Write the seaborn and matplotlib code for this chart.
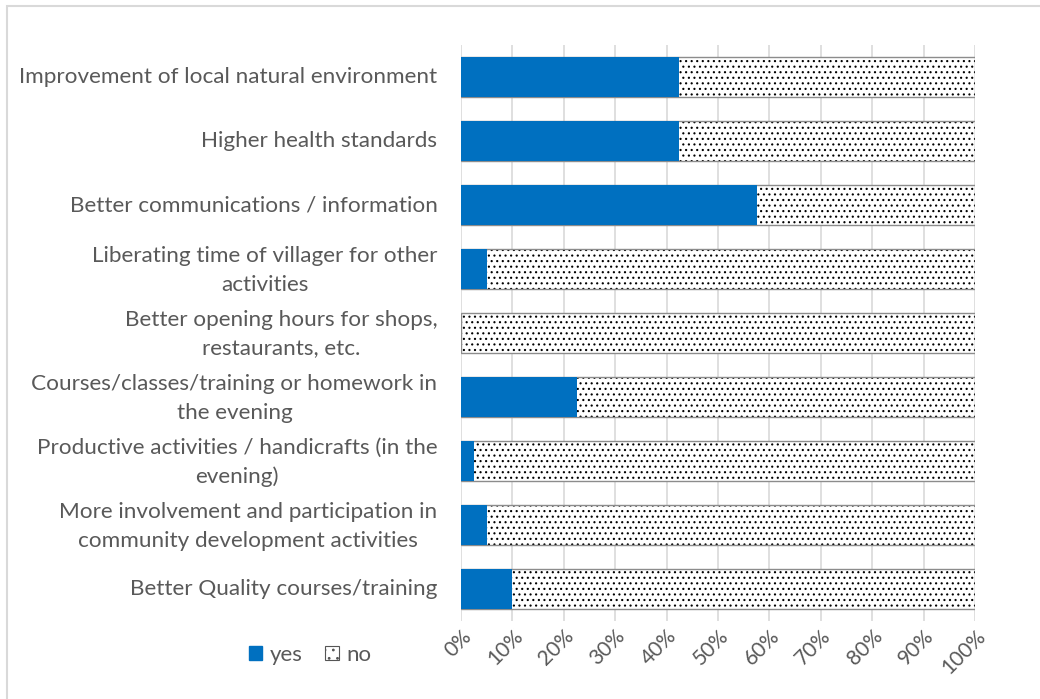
import matplotlib
matplotlib.use("Agg")
import matplotlib.pyplot as plt
import matplotlib.patches as mpatches
import matplotlib.transforms as mtransforms
import seaborn as sns
import pandas as pd

categories = [
    "Improvement of local natural environment",
    "Higher health standards",
    "Better communications / information",
    "Liberating time of villager for other\nactivities",
    "Better opening hours for shops,\nrestaurants, etc.",
    "Courses/classes/training or homework in\nthe evening",
    "Productive activities / handicrafts (in the\nevening)",
    "More involvement and participation in\ncommunity development activities",
    "Better Quality courses/training",
]
yes_pct = [42.5, 42.5, 57.5, 5.0, 0.0, 22.5, 2.5, 5.0, 10.0]
no_pct = [100 - v for v in yes_pct]
x_ticks = list(range(0, 101, 10))
x_tick_labels = [f"{t}%" for t in x_ticks]

BLUE = "#0070C0"
TEXT = "#595959"
GRID = "#D9D9D9"
EDGE = "#8C8C8C"

sns.set_theme(style="white")
plt.rcParams["font.family"] = ["Lato", "DejaVu Sans"]
plt.rcParams["hatch.linewidth"] = 0.8

df = pd.DataFrame({
    "category": categories,
    "yes": yes_pct,
    "no": no_pct,
})
df["total"] = df["yes"] + df["no"]

fig = plt.figure(figsize=(10.4, 6.99), dpi=100)
ax = fig.add_axes([461 / 1040, 1 - 621 / 699, 514 / 1040, 576 / 699])

# stacked "no" layer: dotted fill spanning the full 100%
sns.barplot(data=df, y="category", x="total", orient="h", ax=ax,
            color="white", edgecolor="black", linewidth=0, width=0.64,
            hatch="...", zorder=2)
# thin grey outline around the "no" layer
sns.barplot(data=df, y="category", x="total", orient="h", ax=ax,
            fill=False, edgecolor=EDGE, linewidth=1.0, width=0.64, zorder=3)
# solid "yes" layer on top
sns.barplot(data=df, y="category", x="yes", orient="h", ax=ax,
            color=BLUE, saturation=1, linewidth=0, width=0.64, zorder=4)

ax.set_xlim(0, 100)
ax.set_ylim(8.5, -0.5)
ax.set_xticks(x_ticks)
ax.set_xticklabels(x_tick_labels, rotation=45, ha="right", va="top",
                   rotation_mode="anchor", fontsize=15, color=TEXT)
offset = mtransforms.ScaledTranslation(0.09, -0.13, fig.dpi_scale_trans)
for lbl in ax.get_xticklabels():
    lbl.set_transform(lbl.get_transform() + offset)
ax.set_xlabel("")
ax.set_ylabel("")
ax.grid(axis="x", color=GRID, linewidth=1.2, zorder=0)
ax.set_axisbelow(True)
for s in ax.spines.values():
    s.set_visible(False)
ax.tick_params(axis="both", length=0)
ax.tick_params(axis="y", pad=17)
for lbl in ax.get_yticklabels():
    lbl.set_fontsize(16.2)
    lbl.set_color(TEXT)
    lbl.set_multialignment("center")
    lbl.set_linespacing(1.55)
    lift = 0.05 if "\n" in lbl.get_text() else 0.02
    lbl.set_transform(lbl.get_transform()
                      + mtransforms.ScaledTranslation(0, lift, fig.dpi_scale_trans))

handles = [
    mpatches.Patch(facecolor=BLUE, edgecolor=BLUE, label="yes"),
    mpatches.Patch(facecolor="white", edgecolor="#555555", hatch="..",
                   linewidth=0.8, label="no"),
]
leg = fig.legend(handles=handles, loc="center left",
                 bbox_to_anchor=(229 / 1040, 1 - 655 / 699), ncol=2,
                 frameon=False, fontsize=16, handlelength=0.6,
                 handleheight=0.6, handletextpad=0.35, columnspacing=1.0)
for t in leg.get_texts():
    t.set_color(TEXT)

# chart-area border
fig.add_artist(mpatches.Rectangle((7 / 1040, -0.05), 1.1, 1 - 6 / 699 + 0.05,
                                  transform=fig.transFigure, fill=False,
                                  edgecolor=GRID, linewidth=1.5))

fig.savefig("out.png", dpi=100)
